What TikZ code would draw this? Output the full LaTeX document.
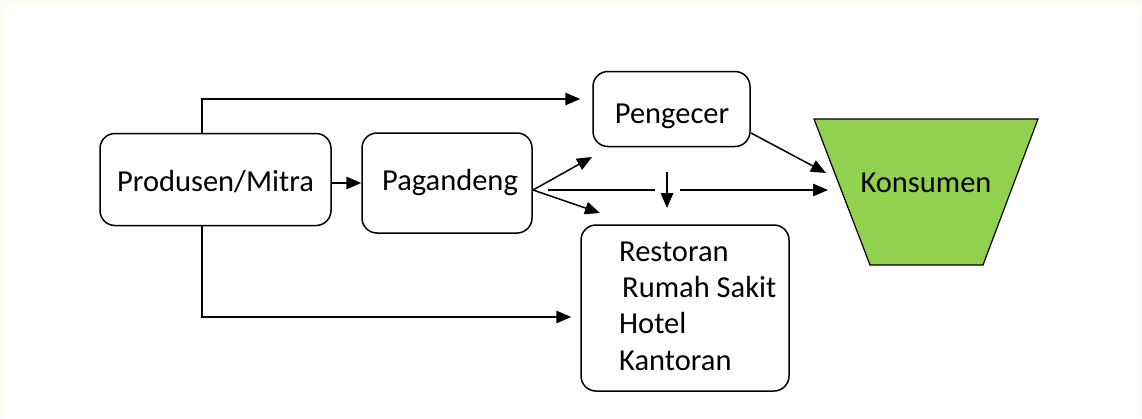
\documentclass[tikz,border=0pt]{standalone}
\usepackage{fontspec}
\setmainfont{Carlito}
\usetikzlibrary{arrows.meta}
\definecolor{kgreen}{RGB}{146,208,80}
\definecolor{ivorybg}{RGB}{252,252,245}
\begin{document}
\begin{tikzpicture}[x=1pt,y=-1pt,
  box/.style={draw, line width=1.5pt, rounded corners=15pt, inner sep=0pt},
  lbl/.style={font=\fontsize{30.5}{36}\selectfont, inner sep=0pt},
  conn/.style={line width=1.5pt, -{Triangle[length=15pt,width=12.5pt]}},
  plainline/.style={line width=1.5pt}]
\useasboundingbox (0,0) rectangle (1142,418);
\fill[ivorybg] (0,0) rectangle (1142,418);
\fill[white] (5,4) rectangle (1140,418);
% boxes
\node[box, minimum width=231pt, minimum height=92pt] (prod) at (215.5,179.5) {};
\node[box, minimum width=170pt, minimum height=100pt] (pag) at (447,183) {};
\node[box, minimum width=157pt, minimum height=75pt] (peng) at (671.5,109) {};
\node[box, minimum width=208pt, minimum height=166pt] (rest) at (685,308) {};
\node[lbl, anchor=base] (prodt) at (215.5,191) {Produsen/Mitra};
\node[lbl, anchor=base] (pagt) at (450,190) {Pagandeng};
\node[lbl, anchor=base] (pengt) at (672,123) {Pengecer};
\node[lbl, anchor=base west] (r1) at (619,261) {Restoran};
\node[lbl, anchor=base west] (r2) at (622,297) {Rumah Sakit};
\node[lbl, anchor=base west] (r3) at (619,333) {Hotel};
\node[lbl, anchor=base west] (r4) at (619,370) {Kantoran};
% consumer trapezoid
\filldraw[fill=kgreen, draw=black, line width=1.2pt] (814,119) -- (1038,119) -- (983,265) -- (870,265) -- cycle;
\node[lbl, anchor=base] (kons) at (926,192) {Konsumen};
% coordinates
\coordinate (tx) at (202,99);
\coordinate (bx) at (202,317);
\coordinate (pm) at (331,183);
\coordinate (pj) at (533,190);
\coordinate (ut) at (592,157);
\coordinate (lt) at (600,213);
\coordinate (m1) at (548,190);
\coordinate (m2) at (655,190);
\coordinate (m3) at (680,190);
\coordinate (kin2) at (828,190);
\coordinate (d1) at (667,172);
\coordinate (d2) at (667,208);
\coordinate (pe) at (751,133);
\coordinate (kin1) at (826,173);
% connectors
\draw[conn, shorten >=12pt] (prod.north -| tx) -- (tx) -- (peng.west |- tx);
\draw[conn, shorten >=9pt] (prod.south -| bx) -- (bx) -- (rest.west |- bx);
\draw[conn] (prod.east |- pm) -- (pag.west |- pm);
\draw[conn] (pj) -- (ut);
\draw[conn] (pj) -- (lt);
\draw[plainline] (m1) -- (m2);
\draw[conn] (m3) -- (kin2);
\draw[conn] (d1) -- (d2);
\draw[conn] (pe) -- (kin1);
\end{tikzpicture}
\end{document}
